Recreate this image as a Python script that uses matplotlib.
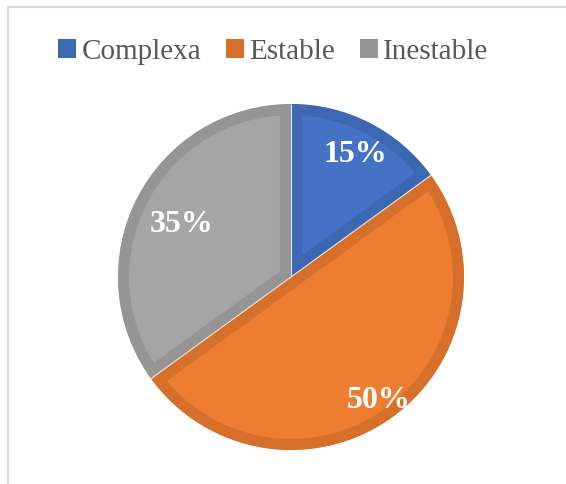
import numpy as np
import matplotlib.pyplot as plt
from matplotlib.patches import Rectangle, Patch

labels = ['Complexa', 'Estable', 'Inestable']
values = [15, 50, 35]
fills = ['#4472C4', '#ED7D31', '#A5A5A5']
edges = ['#3B67B3', '#D56F2A', '#959595']
# distancia de cada etiqueta al centro (fracción del radio)
label_dist = [0.82, 0.86, 0.71]

plt.rcParams['font.family'] = ['Liberation Serif', 'DejaVu Serif']

W, H = 566, 484
fig = plt.figure(figsize=(W / 100, H / 100), dpi=100)

# marco gris del gráfico (solo se ven izquierda y arriba)
fig.add_artist(Rectangle((7.5 / W, -0.1), 1.2, (H - 7.5) / H + 0.1,
                         transform=fig.transFigure, fill=False,
                         edgecolor='#D9D9D9', linewidth=1.5))

cx, cy, r = 291, 277, 173
ax = fig.add_axes([(cx - r) / W, (H - cy - r) / H, 2 * r / W, 2 * r / H])

wedges, texts, autotexts = ax.pie(
    values, colors=fills, startangle=90, counterclock=False,
    autopct='%1.0f%%', radius=1,
    textprops=dict(color='white', fontsize=23, fontweight='bold'))

# borde interior más oscuro en cada porción
for w, ec in zip(wedges, edges):
    w.set_edgecolor(ec)
    w.set_linewidth(16)
    w.set_clip_on(True)
    w.set_clip_path(w.get_path(), w.get_transform())

# líneas finas claras entre porciones y etiquetas
for w, t, d in zip(wedges, autotexts, label_dist):
    a = np.deg2rad(w.theta1)
    ax.plot([0, np.cos(a)], [0, np.sin(a)], color='#E6E6E6', lw=0.8,
            solid_capstyle='butt')
    m = np.deg2rad((w.theta1 + w.theta2) / 2)
    t.set_position((d * np.cos(m), d * np.sin(m)))
    t.set_va('center_baseline')
    t.set_zorder(5)

ax.set_xlim(-1, 1)
ax.set_ylim(-1, 1)
ax.set_aspect('equal')
ax.axis('off')

handles = [Patch(facecolor=c, edgecolor='none') for c in edges]
fig.legend(handles, labels, loc='center',
           bbox_to_anchor=(273.5 / W, (H - 52) / H),
           ncol=3, frameon=False, fontsize=21, labelcolor='#595959',
           handlelength=0.6, handleheight=0.6, handletextpad=0.2,
           columnspacing=0.85)

fig.savefig('out.png', dpi=100)
